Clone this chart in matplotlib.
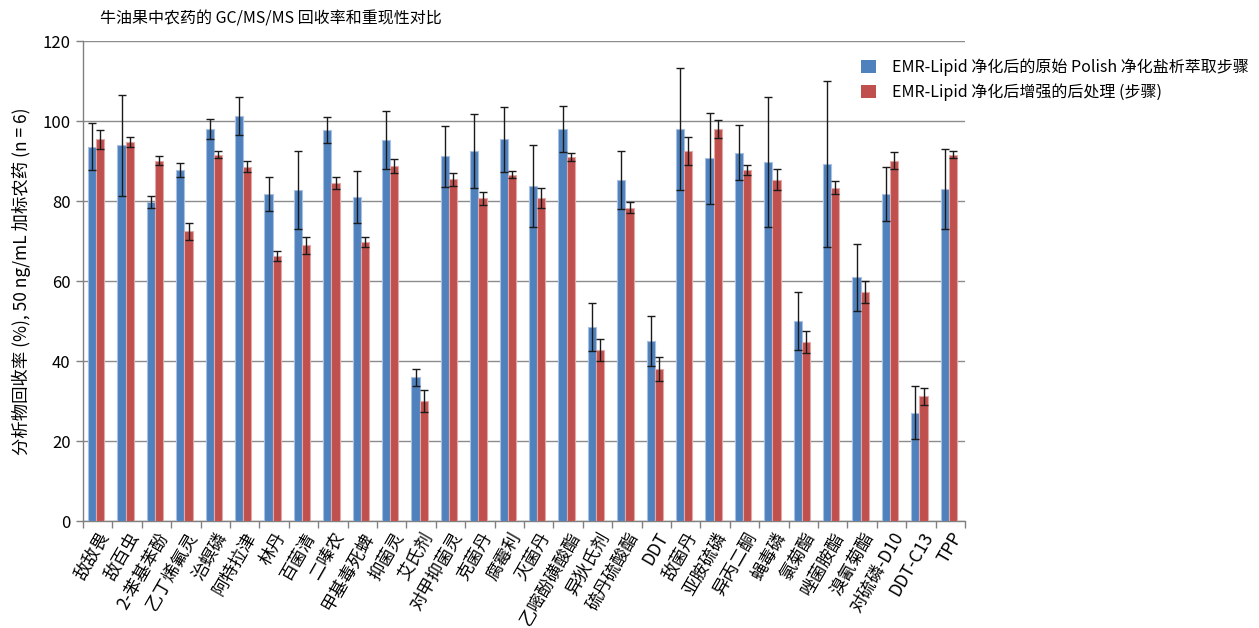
import numpy as np
import matplotlib
matplotlib.use("Agg")
import matplotlib.pyplot as plt
from matplotlib.patches import Patch

plt.rcParams['font.family'] = ['Noto Sans CJK SC', 'DejaVu Sans']

pesticides = [
    "敌敌畏", "敌百虫", "2-苯基苯酚", "乙丁烯氟灵", "治螟磷", "阿特拉津", "林丹",
    "百菌清", "二嗪农", "甲基毒死蜱", "抑菌灵", "艾氏剂", "对甲抑菌灵", "克菌丹",
    "腐霉利", "灭菌丹", "乙嘧酚磺酸酯", "异狄氏剂", "硫丹硫酸酯", "DDT", "敌菌丹",
    "亚胺硫磷", "异丙二酮", "蝇毒磷", "氯菊酯", "唑菌胺酯", "溴氰菊酯",
    "对硫磷-D10", "DDT-C13", "TPP",
]

# Recovery (%) after the original Polish salting-out extraction + EMR-Lipid cleanup
orig_mean = [93.6, 93.9, 79.8, 87.7, 98.0, 101.2, 81.8, 82.8, 97.8, 81.0,
             95.2, 35.9, 91.2, 92.5, 95.4, 83.8, 98.0, 48.6, 85.3, 45.0,
             98.0, 90.7, 92.1, 89.7, 50.0, 89.2, 60.9, 81.8, 27.1, 83.0]
orig_rsd = [5.8, 12.6, 1.5, 1.7, 2.5, 4.7, 4.2, 9.7, 3.2, 6.6,
            7.3, 2.2, 7.6, 9.3, 8.2, 10.2, 5.8, 6.0, 7.2, 6.3,
            15.2, 11.4, 6.8, 16.3, 7.3, 20.8, 8.3, 6.8, 6.7, 10.1]

# Recovery (%) with the enhanced post-treatment step after EMR-Lipid cleanup
enh_mean = [95.4, 94.8, 90.1, 72.4, 91.6, 88.6, 66.3, 68.9, 84.5, 69.8,
            88.7, 30.0, 85.4, 80.7, 86.6, 80.7, 91.0, 42.8, 78.3, 38.0,
            92.4, 98.0, 87.7, 85.3, 44.8, 83.3, 57.2, 90.1, 31.2, 91.6]
enh_rsd = [2.4, 1.2, 1.2, 2.2, 0.8, 1.4, 1.3, 2.1, 1.5, 1.3,
           1.8, 2.7, 1.7, 1.6, 0.9, 2.5, 0.9, 2.7, 1.4, 3.1,
           3.5, 2.2, 1.3, 2.6, 2.8, 1.6, 2.8, 2.2, 2.1, 0.9]

series_labels = ["EMR-Lipid 净化后的原始 Polish 净化盐析萃取步骤",
                 "EMR-Lipid 净化后增强的后处理 (步骤)"]
title = "牛油果中农药的 GC/MS/MS 回收率和重现性对比"
ylabel = "分析物回收率 (%), 50 ng/mL 加标农药 (n = 6)"

blue = "#4F81BD"
red = "#C0504D"

fig = plt.figure(figsize=(12.59, 6.28), dpi=100)
ax = fig.add_axes([83 / 1259, 1 - 521 / 628, (965 - 83) / 1259, 480 / 628])

x = np.arange(len(pesticides))
w = 0.28
err_kw = dict(ecolor="#1a1a1a", elinewidth=1.0, capsize=3.2, capthick=1.0)
ax.bar(x - w / 2 - 0.05, orig_mean, w, yerr=orig_rsd, color=blue,
       edgecolor="#A9C1E2", linewidth=0.8, error_kw=err_kw, zorder=3)
ax.bar(x + w / 2 - 0.05, enh_mean, w, yerr=enh_rsd, color=red,
       edgecolor="#E2A9A8", linewidth=0.8, error_kw=err_kw, zorder=3)

ax.set_xlim(-0.5, len(pesticides) - 0.5)
ax.set_ylim(0, 120)
ax.set_yticks(np.arange(0, 121, 20))
ax.yaxis.grid(True, color="#8c8c8c", linewidth=1.0, zorder=0)
ax.set_axisbelow(True)

# category boundaries carry the tick marks, names sit at the centres
ax.set_xticks(np.arange(-0.5, len(pesticides), 1.0))
ax.set_xticklabels([])
ax.set_xticks(x, minor=True)
ax.set_xticklabels(pesticides, minor=True, rotation=60, ha="right",
                   rotation_mode="anchor", fontsize=12.5)
ax.tick_params(axis="x", which="minor", length=0, pad=6)
ax.tick_params(axis="x", which="major", length=5, color="#808080", width=1)
ax.tick_params(axis="y", length=5, color="#808080", width=1, labelsize=12, pad=4)

for s in ("top", "right"):
    ax.spines[s].set_visible(False)
for s in ("left", "bottom"):
    ax.spines[s].set_color("#808080")
    ax.spines[s].set_linewidth(1.0)

ax.set_ylabel(ylabel, fontsize=12.5, labelpad=8)
fig.text(100 / 1259, 1 - 19 / 628, title, fontsize=11.5, ha="left", va="center")

handles = [Patch(facecolor=blue, edgecolor="none"), Patch(facecolor=red, edgecolor="none")]
fig.legend(handles, series_labels, loc="upper left",
           bbox_to_anchor=(855 / 1259, 1 - 52 / 628), frameon=False,
           fontsize=11.5, handlelength=0.9, handleheight=0.9,
           handletextpad=1.0, labelspacing=0.45, borderaxespad=0)

fig.savefig("out.png", dpi=100)
